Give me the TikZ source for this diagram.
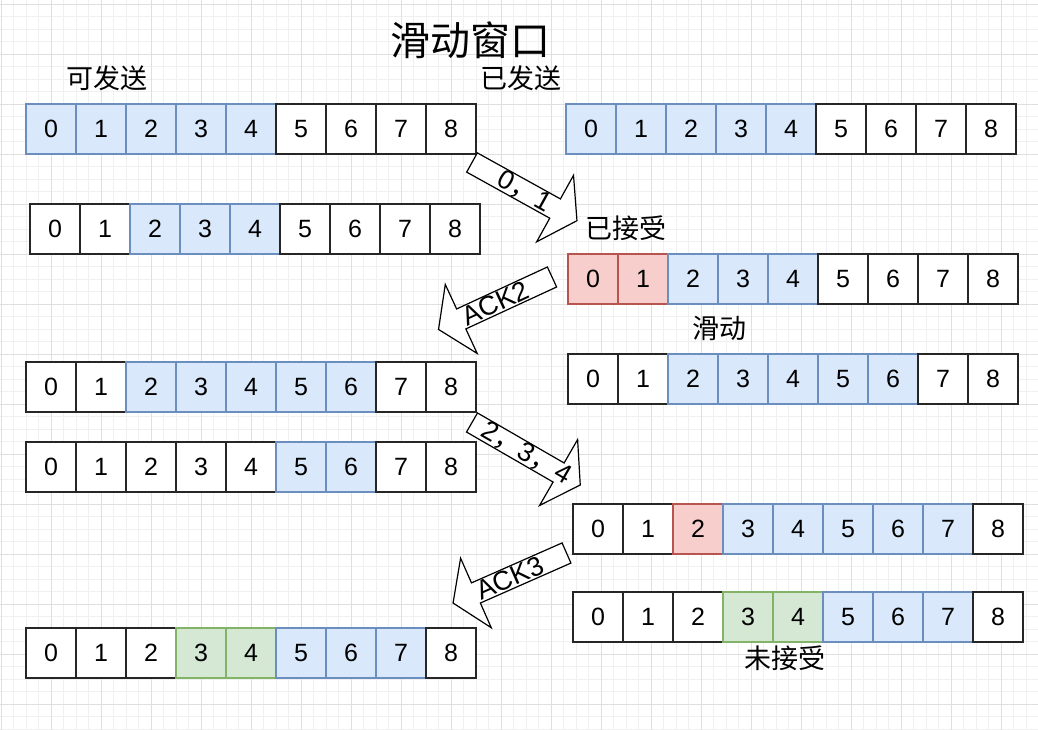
\documentclass[tikz,border=0pt]{standalone}
\usepackage{fontspec}
\setmainfont{Liberation Sans}
\newfontfamily\cjk{Noto Sans CJK SC}
\definecolor{bfill}{HTML}{DAE8FC}
\definecolor{bline}{HTML}{6C8EBF}
\definecolor{rfill}{HTML}{F8CECC}
\definecolor{rline}{HTML}{B85450}
\definecolor{gfill}{HTML}{D5E8D4}
\definecolor{gline}{HTML}{82B366}
\tikzset{
  cell/.style={draw, minimum size=50pt, inner sep=0pt, line width=1.1pt,
    font=\fontsize{25}{28}\selectfont},
  cw/.style={draw=black!85, fill=white},
  cb/.style={draw=bline, fill=bfill},
  cr/.style={draw=rline, fill=rfill},
  cg/.style={draw=gline, fill=gfill},
  barrow/.style={draw=black, fill=white, line width=1.2pt, line join=miter},
  alabel/.style={inner sep=0pt, font=\fontsize{27}{30}\selectfont},
  cjklabel/.style={inner sep=0pt, font=\cjk\fontsize{27}{30}\selectfont},
  minorgrid/.style={draw=gray!12, line width=0.8pt},
  majorgrid/.style={draw=gray!25, line width=0.8pt},
}
\newcommand\cellrow[4]{%
  \foreach \s [count=\k from 0] in {#4} {
    \node[cell, \s] (#1\k) at ({#2+25+50*\k},{#3+25}) {\k};
  }%
}
\newcommand\fatarrow[7]{%
  \begin{scope}[shift={(#2,#3)}, rotate=#4]
    \draw[barrow] (0,-11) -- (#5,-11) -- (#5,-38) -- ({#5+25},0) -- (#5,38) -- (#5,11) -- (0,11) -- cycle;
    \node[alabel, rotate=#6] (#1) at ({(#5+25)/2},0) {#7};
  \end{scope}%
}
\begin{document}
\begin{tikzpicture}[x=1pt, y=-1pt]
\useasboundingbox (0,0) rectangle (1038,730);
\fill[white] (0,0) rectangle (1038,730);
% grid
\foreach \x in {1,13.5,...,1040} \draw[minorgrid] (\x,0) -- (\x,730);
\foreach \y in {4,16.5,...,732} \draw[minorgrid] (0,\y) -- (1038,\y);
\foreach \x in {1,51,...,1040} \draw[majorgrid] (\x,0) -- (\x,730);
\foreach \y in {4,54,...,732} \draw[majorgrid] (0,\y) -- (1038,\y);

% titles and labels
\node[inner sep=0pt, font=\cjk\fontsize{40}{44}\selectfont] (title) at (470,40) {滑动窗口};
\node[cjklabel] (kefasong) at (107,78) {可发送};
\node[cjklabel] (yifasong) at (521,78) {已发送};
\node[cjklabel] (yijieshou) at (626,228) {已接受};
\node[cjklabel] (huadong) at (719,328) {滑动};
\node[cjklabel] (weijieshou) at (785,658) {未接受};

% rows
\cellrow{La}{26}{104}{cb,cb,cb,cb,cb,cw,cw,cw,cw}
\cellrow{Ra}{566}{104}{cb,cb,cb,cb,cb,cw,cw,cw,cw}
\cellrow{Lb}{30}{204}{cw,cw,cb,cb,cb,cw,cw,cw,cw}
\cellrow{Rb}{568}{254}{cr,cr,cb,cb,cb,cw,cw,cw,cw}
\cellrow{Rc}{568}{354}{cw,cw,cb,cb,cb,cb,cb,cw,cw}
\cellrow{Lc}{26}{362}{cw,cw,cb,cb,cb,cb,cb,cw,cw}
\cellrow{Ld}{26}{442}{cw,cw,cw,cw,cw,cb,cb,cw,cw}
\cellrow{Rd}{573}{504}{cw,cw,cr,cb,cb,cb,cb,cb,cw}
\cellrow{Re}{573}{592}{cw,cw,cw,cg,cg,cb,cb,cb,cw}
\cellrow{Le}{26}{628}{cw,cw,cw,cg,cg,cb,cb,cb,cw}

% block arrows
\fatarrow{arrA}{472}{162.5}{-29}{95}{-29}{0{\cjk ，}1}
\fatarrow{arrB}{552}{277}{204.8}{100}{24.8}{ACK2}
\fatarrow{arrC}{472}{422.5}{-30}{100}{-30}{2{\cjk ，}3{\cjk ，}4}
\fatarrow{arrD}{566.5}{553}{203.8}{99}{23.8}{ACK3}
\end{tikzpicture}
\end{document}
